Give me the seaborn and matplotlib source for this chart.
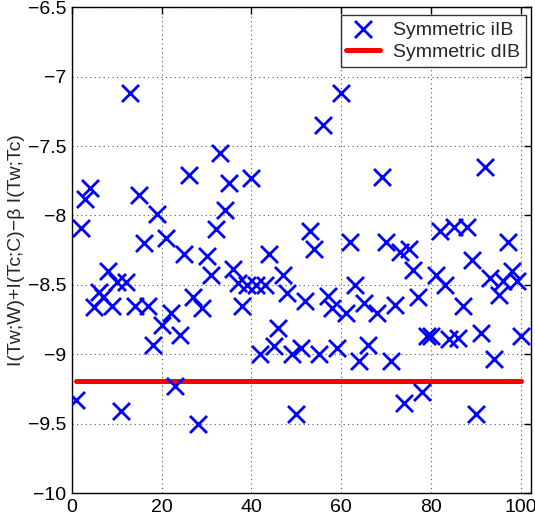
# Symmetric iIB vs dIB objective, MATLAB-style scatter
import numpy as np
import pandas as pd
import matplotlib
matplotlib.use("Agg")
import matplotlib.pyplot as plt
import seaborn as sns
from matplotlib.ticker import FixedLocator, FixedFormatter

# ------------------------------
# Data
# ------------------------------
trial = [1, 2, 3, 4, 5, 6, 7, 8, 9, 10,
         11, 12, 13, 14, 15, 16, 17, 18, 19, 20,
         21, 22, 23, 24, 25, 26, 27, 28, 29, 30,
         31, 32, 33, 34, 35, 36, 37, 38, 39, 40,
         41, 42, 43, 44, 45, 46, 47, 48, 49, 50,
         51, 52, 53, 54, 55, 56, 57, 58, 59, 60,
         61, 62, 63, 64, 65, 66, 68, 69, 70,
         71, 72, 73, 74, 75, 76, 77, 78, 79, 80,
         81, 82, 83, 84, 85, 86, 87, 88, 89, 90,
         91, 92, 93, 94, 95, 96, 97, 98, 99, 100]

iib_value = [-9.33, -8.09, -7.88, -7.80, -8.66, -8.55, -8.59, -8.40, -8.655, -8.48,
             -9.41, -8.48, -7.12, -8.655, -7.85, -8.20, -8.655, -8.93, -7.99, -8.79,
             -8.16, -8.70, -9.23, -8.86, -8.275, -7.705, -8.59, -9.50, -8.67, -8.29,
             -8.43, -8.10, -7.55, -7.96, -7.765, -8.385, -8.49, -8.65, -8.50, -7.73,
             -8.50, -9.00, -8.50, -8.275, -8.94, -8.81, -8.43, -8.56, -9.00, -9.43,
             -8.955, -8.62, -8.11, -8.24, -9.00, -7.35, -8.58, -8.67, -8.955, -7.115,
             -8.70, -8.19, -8.50, -9.05, -8.63, -8.93, -8.70, -7.72, -8.19,
             -9.05, -8.645, -8.26, -9.35, -8.245, -8.39, -8.59, -9.27, -8.87, -8.87,
             -8.43, -8.11, -8.50, -8.89, -8.08, -8.88, -8.65, -8.08, -8.32, -9.43,
             -8.85, -7.65, -8.45, -9.035, -8.57, -8.475, -8.19, -8.40, -8.475, -8.87]

dib_x = [1, 100]
dib_value = [-9.19, -9.19]

x_ticks = [0, 20, 40, 60, 80, 100]
y_ticks = [-10, -9.5, -9, -8.5, -8, -7.5, -7, -6.5]
y_tick_labels = ["\u221210", "\u22129.5", "\u22129", "\u22128.5",
                 "\u22128", "\u22127.5", "\u22127", "\u22126.5"]

df_iib = pd.DataFrame({"trial": trial, "value": iib_value})
df_dib = pd.DataFrame({"trial": dib_x, "value": dib_value})

# ------------------------------
# Plot
# ------------------------------
sns.set_style("white")
plt.rcParams["font.family"] = ["Liberation Sans", "DejaVu Sans"]

fig = plt.figure(figsize=(5.35, 5.29), dpi=100)
ax = fig.add_axes([71.7 / 535, 1 - 493 / 529, (531 - 71.7) / 535, (493 - 7.3) / 529])

sns.scatterplot(data=df_iib, x="trial", y="value", marker="x", s=150,
                color="#0000ff", linewidth=2.0, label="Symmetric iIB", ax=ax, zorder=3)
sns.lineplot(data=df_dib, x="trial", y="value", color="#ff0000", linewidth=3.6,
             label="Symmetric dIB", ax=ax, zorder=2)

ax.set_xlim(0, 102.2)
ax.set_ylim(-10, -6.5)
ax.xaxis.set_major_locator(FixedLocator(x_ticks))
ax.yaxis.set_major_locator(FixedLocator(y_ticks))
ax.yaxis.set_major_formatter(FixedFormatter(y_tick_labels))

ax.grid(True, linestyle=(0, (1, 3)), color="#555555", linewidth=0.8)
ax.tick_params(direction="in", length=5, width=1, top=True, right=True,
               labelsize=14, colors="black", pad=4)
for sp in ax.spines.values():
    sp.set_color("black")
    sp.set_linewidth(1.0)

ax.set_xlabel("")
ax.set_ylabel("I(Tw;W)+I(Tc;C)\u2212\u03b2 I(Tw;Tc)", fontsize=14, labelpad=2)

leg = ax.legend(loc="upper right", bbox_to_anchor=(0.989, 0.984), borderaxespad=0,
                fontsize=14, frameon=True, fancybox=False, handlelength=1.7,
                borderpad=0.3, labelspacing=0.25, handletextpad=0.7)
leg.get_frame().set_edgecolor("black")
leg.get_frame().set_linewidth(1.0)

fig.savefig("out.png", dpi=100)
